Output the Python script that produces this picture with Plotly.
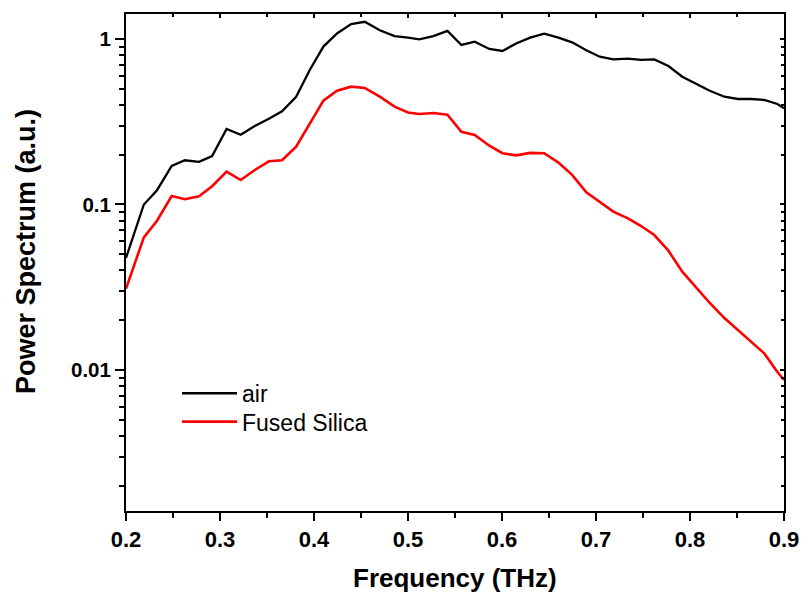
import plotly.graph_objects as go

freq = [0.2, 0.219, 0.233, 0.2486, 0.2626, 0.2777, 0.2916, 0.307, 0.322, 0.337,
        0.352, 0.366, 0.381, 0.3955, 0.41, 0.4245, 0.4395, 0.454, 0.47, 0.4857,
        0.5, 0.512, 0.527, 0.542, 0.5568, 0.571, 0.5865, 0.6005, 0.615, 0.630,
        0.6449, 0.66, 0.6746, 0.6897, 0.704, 0.7184, 0.734, 0.748, 0.762, 0.777,
        0.7918, 0.806, 0.821, 0.8366, 0.851, 0.8653, 0.879, 0.893, 0.9]

air = [0.0475, 0.1, 0.122, 0.171, 0.185, 0.181, 0.196, 0.286, 0.264, 0.298,
       0.33, 0.366, 0.448, 0.65, 0.9, 1.08, 1.23, 1.27, 1.13, 1.04,
       1.02, 0.995, 1.04, 1.12, 0.92, 0.963, 0.87, 0.846, 0.94, 1.02,
       1.077, 1.02, 0.955, 0.855, 0.782, 0.753, 0.761, 0.747, 0.753, 0.687,
       0.592, 0.54, 0.487, 0.448, 0.434, 0.434, 0.428, 0.405, 0.381]

silica = [0.031, 0.0633, 0.0798, 0.1125, 0.1075, 0.112, 0.129, 0.158, 0.1406, 0.1616,
          0.1824, 0.185, 0.2235, 0.31, 0.424, 0.487, 0.515, 0.506, 0.448, 0.39,
          0.36, 0.352, 0.357, 0.349, 0.275, 0.263, 0.2266, 0.204, 0.198, 0.205,
          0.204, 0.179, 0.151, 0.1186, 0.103, 0.0905, 0.0825, 0.0741, 0.0654, 0.0526,
          0.0393, 0.0319, 0.0254, 0.0206, 0.01745, 0.0148, 0.0126, 0.00973, 0.0087]

x_ticks = [0.2, 0.3, 0.4, 0.5, 0.6, 0.7, 0.8, 0.9]
x_labels = ["0.2", "0.3", "0.4", "0.5", "0.6", "0.7", "0.8", "0.9"]
y_ticks = [0.01, 0.1, 1]
y_labels = ["0.01", "0.1", "1"]

FONT = "Liberation Sans, Arial, sans-serif"
x_range = [0.2, 0.9]
y_range = [-2.852, 0.151]

fig = go.Figure()
fig.add_trace(go.Scatter(x=freq, y=air, mode="lines", name="air", legend="legend",
                         line=dict(color="black", width=2.3)))
fig.add_trace(go.Scatter(x=freq, y=silica, mode="lines", name="Fused Silica",
                         legend="legend2", line=dict(color="#ff0000", width=2.6)))
# carrier for the mirrored (inward-tick) top/right axes
fig.add_trace(go.Scatter(x=[None], y=[None], xaxis="x2", yaxis="y2",
                         showlegend=False, hoverinfo="skip"))

leg_common = dict(xanchor="left", yanchor="middle", bgcolor="rgba(0,0,0,0)",
                  font=dict(size=23, family=FONT), itemwidth=55)

fig.update_layout(
    width=811, height=594,
    margin=dict(l=126, r=18, t=14, b=83),
    paper_bgcolor="white", plot_bgcolor="white",
    font=dict(family=FONT, color="black"),
    showlegend=True,
    legend=dict(x=0.0775, y=0.2368, **leg_common),
    legend2=dict(x=0.0775, y=0.1797, **leg_common),
    xaxis=dict(range=x_range, tickvals=x_ticks, ticktext=x_labels,
               showgrid=False, zeroline=False, showline=True, linecolor="black",
               linewidth=2, ticks="outside", ticklen=8, tickwidth=2, tickcolor="black",
               tickfont=dict(size=22, family=FONT, weight="bold"),
               minor=dict(dtick=0.05, ticks="outside", ticklen=5, tickwidth=2,
                          tickcolor="black", showgrid=False)),
    yaxis=dict(type="log", range=y_range, tickvals=y_ticks, ticktext=y_labels,
               showgrid=False, zeroline=False, showline=True, linecolor="black",
               linewidth=2, ticks="outside", ticklen=9, tickwidth=2, tickcolor="black",
               tickfont=dict(size=20.5, family=FONT, weight="bold"),
               minor=dict(dtick="D1", ticks="outside", ticklen=5, tickwidth=2,
                          tickcolor="black", showgrid=False)),
    xaxis2=dict(range=x_range, overlaying="x", side="top", anchor="y2",
                tickvals=x_ticks, showticklabels=False, showgrid=False, zeroline=False,
                showline=True, linecolor="black", linewidth=2,
                ticks="inside", ticklen=4, tickwidth=1.5, tickcolor="black",
                minor=dict(dtick=0.05, ticks="inside", ticklen=3, tickwidth=1.5,
                           tickcolor="black", showgrid=False)),
    yaxis2=dict(type="log", range=y_range, overlaying="y", side="right", anchor="x2",
                tickvals=y_ticks, showticklabels=False, showgrid=False, zeroline=False,
                showline=True, linecolor="black", linewidth=2,
                ticks="inside", ticklen=4, tickwidth=1.5, tickcolor="black",
                minor=dict(dtick="D1", ticks="inside", ticklen=3, tickwidth=1.5,
                           tickcolor="black", showgrid=False)),
    annotations=[
        dict(text="Frequency (THz)", xref="paper", yref="paper", x=0.5, y=-0.135,
             xanchor="center", yanchor="middle", showarrow=False,
             font=dict(size=26, family=FONT, weight="bold")),
        dict(text="Power Spectrum (a.u.)", xref="paper", yref="paper", x=-0.152, y=0.523,
             xanchor="center", yanchor="middle", showarrow=False, textangle=-90,
             font=dict(size=27, family=FONT, weight="bold")),
    ],
)

fig.write_html("out.html")
